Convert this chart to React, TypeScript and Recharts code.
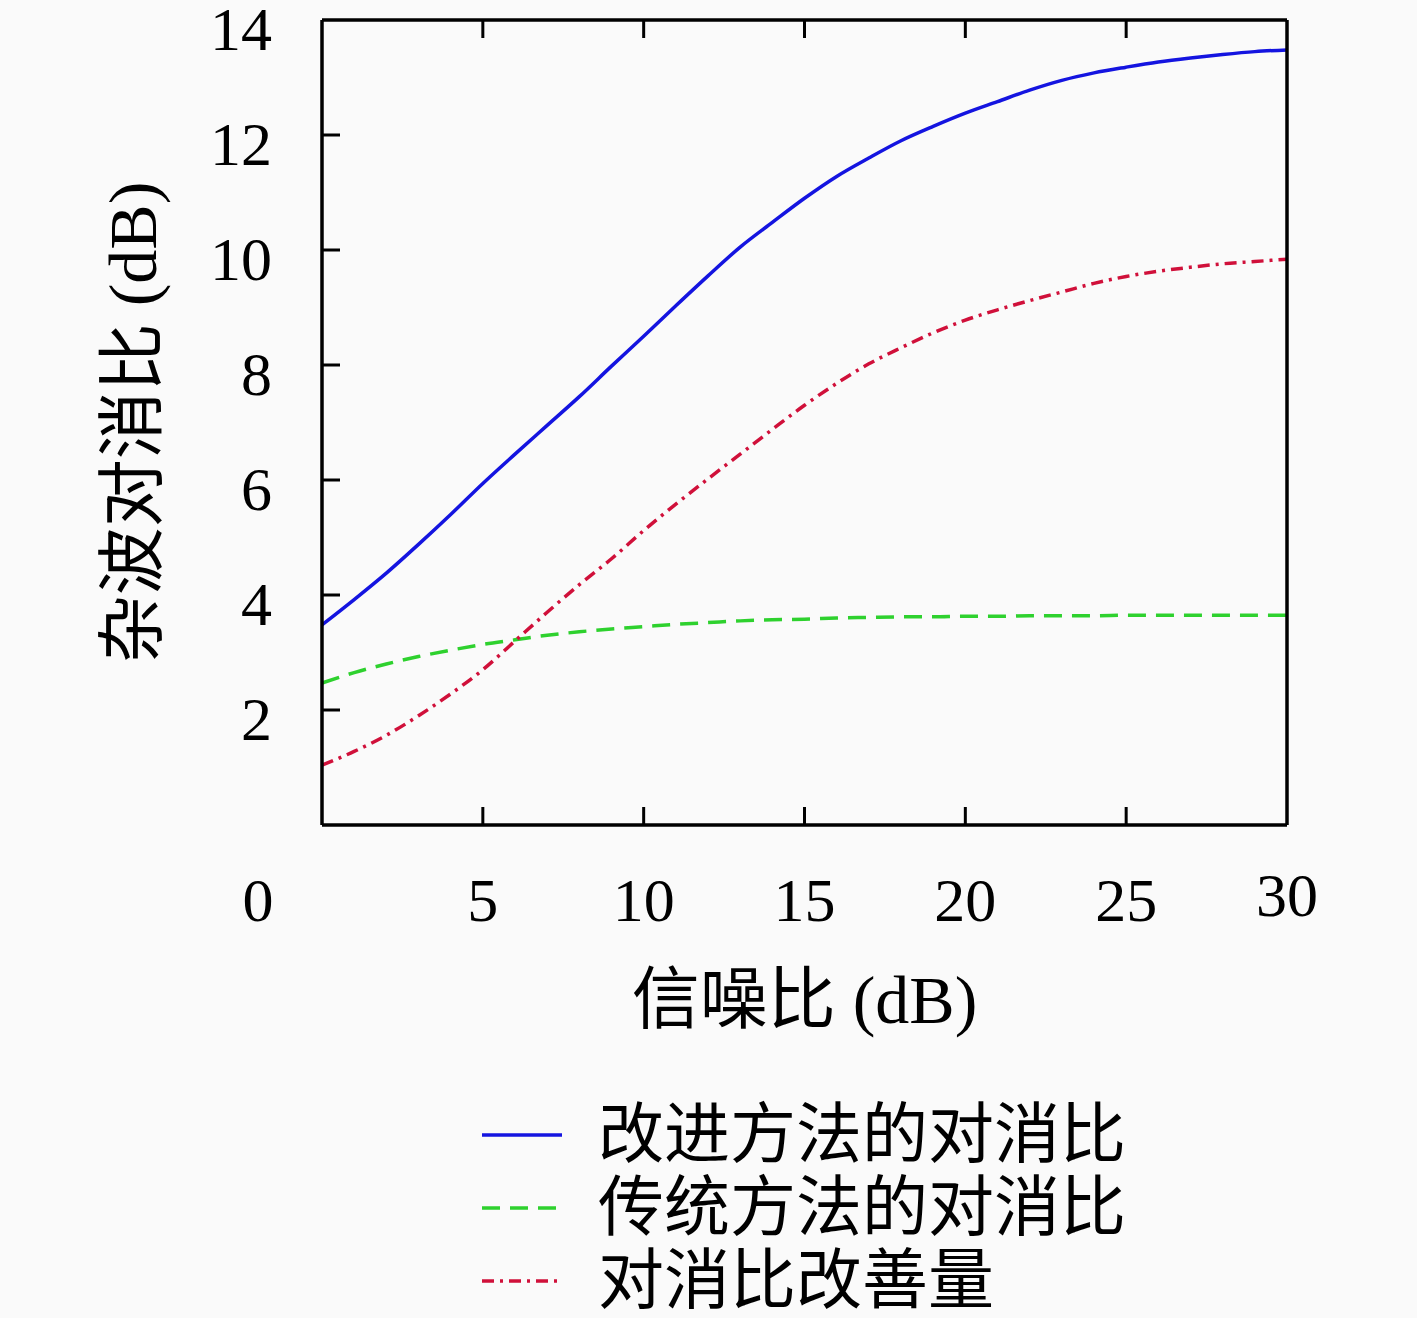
import React from 'react';
import { LineChart, Line, XAxis, YAxis } from 'recharts';

const snr = [0, 1, 2, 3, 4, 5, 6, 7, 8, 9, 10, 11, 12, 13, 14, 15, 16, 17, 18, 19, 20, 21, 22, 23, 24, 25, 26, 27, 28, 29, 30];
const improvedRatio = [
  3.48, 3.92, 4.38, 4.88, 5.4, 5.94, 6.45, 6.95, 7.45, 7.98, 8.5, 9.03, 9.55, 10.05, 10.48, 10.9,
  11.28, 11.6, 11.9, 12.15, 12.38, 12.58, 12.78, 12.95, 13.08, 13.18, 13.27, 13.34, 13.4, 13.45, 13.48,
];
const traditionalRatio = [
  2.47, 2.65, 2.8, 2.93, 3.04, 3.14, 3.22, 3.3, 3.36, 3.41, 3.45, 3.49, 3.52, 3.55, 3.57, 3.58,
  3.6, 3.61, 3.62, 3.62, 3.63, 3.63, 3.64, 3.64, 3.64, 3.65, 3.65, 3.65, 3.65, 3.65, 3.65,
];
const improvement = [
  1.04, 1.28, 1.56, 1.9, 2.28, 2.7, 3.2, 3.7, 4.18, 4.63, 5.12, 5.58, 6.02, 6.45, 6.88, 7.3,
  7.68, 8.02, 8.3, 8.56, 8.78, 8.96, 9.12, 9.27, 9.42, 9.54, 9.63, 9.7, 9.76, 9.8, 9.84,
];

const xTicks = [0, 5, 10, 15, 20, 25, 30];
const yTicks = [2, 4, 6, 8, 10, 12, 14];

const series = [
  { key: 'improved', name: '改进方法的对消比', color: '#1414e0', dash: undefined },
  { key: 'traditional', name: '传统方法的对消比', color: '#2ed12e', dash: '18 10' },
  { key: 'gain', name: '对消比改善量', color: '#d0103a', dash: '12 6 3 6' },
];

const data = snr.map((x, i) => ({
  snr: x,
  improved: improvedRatio[i],
  traditional: traditionalRatio[i],
  gain: improvement[i],
}));

const FONT = "'Liberation Serif', 'Noto Sans CJK SC', serif";
const TICK_LEN = 18;
const TICK_FONT = 62;
const LABEL_FONT = 68;

const BottomTick = (props: any) => {
  const { x, y, payload } = props;
  const v = payload.value;
  return (
    <g>
      {v !== 0 && v !== 30 && (
        <line x1={x} y1={y} x2={x} y2={y - TICK_LEN} stroke="#000" strokeWidth={3} />
      )}
      <text
        x={v === 0 ? x - 64 : x}
        y={v === 30 ? y + 91 : y + 96}
        textAnchor="middle"
        fontSize={TICK_FONT}
        fontFamily={FONT}
        fill="#000"
      >
        {v}
      </text>
    </g>
  );
};

const LeftTick = (props: any) => {
  const { x, y, payload } = props;
  const v = payload.value;
  return (
    <g>
      {v !== 14 && <line x1={x} y1={y} x2={x + TICK_LEN} y2={y} stroke="#000" strokeWidth={3} />}
      <text x={x - 50} y={y + 30} textAnchor="end" fontSize={TICK_FONT} fontFamily={FONT} fill="#000">
        {v}
      </text>
    </g>
  );
};

const TopTick = (props: any) => {
  const { x, y, payload } = props;
  const v = payload.value;
  if (v === 0 || v === 30) return <g />;
  return <line x1={x} y1={y} x2={x} y2={y + TICK_LEN} stroke="#000" strokeWidth={3} />;
};

const RightTick = (props: any) => {
  const { x, y, payload } = props;
  const v = payload.value;
  if (v === 14) return <g />;
  return <line x1={x} y1={y} x2={x - TICK_LEN} y2={y} stroke="#000" strokeWidth={3} />;
};

const YLabel = (props: any) => {
  const { viewBox } = props;
  const cx = viewBox.x + 133;
  const cy = viewBox.y + viewBox.height / 2;
  return (
    <text
      x={cx}
      y={cy}
      transform={`rotate(-90, ${cx}, ${cy})`}
      textAnchor="middle"
      dominantBaseline="central"
      fontSize={LABEL_FONT}
      fontFamily={FONT}
      fill="#000"
    >
      杂波对消比 (dB)
    </text>
  );
};

const XLabel = (props: any) => {
  const { viewBox } = props;
  return (
    <text
      x={viewBox.x + viewBox.width / 2}
      y={viewBox.y + 175}
      textAnchor="middle"
      dominantBaseline="central"
      fontSize={LABEL_FONT}
      fontFamily={FONT}
      fill="#000"
    >
      信噪比 (dB)
    </text>
  );
};

const axisLine = { stroke: '#000', strokeWidth: 3.5 };

export default function App() {
  return (
    <div style={{ position: 'absolute', left: 0, top: 0, width: 1417, height: 1318, background: '#fafafa' }}>
      <LineChart width={1417} height={1318} data={data} margin={{ top: 0, right: 0, bottom: 0, left: 0 }}>
        <XAxis
          dataKey="snr"
          type="number"
          domain={[0, 30]}
          ticks={xTicks}
          height={493}
          tickSize={0}
          tickMargin={0}
          tickLine={false}
          axisLine={axisLine}
          tick={<BottomTick />}
          interval={0}
          label={<XLabel />}
        />
        <XAxis
          xAxisId="top"
          orientation="top"
          dataKey="snr"
          type="number"
          domain={[0, 30]}
          ticks={xTicks}
          height={20}
          tickSize={0}
          tickMargin={0}
          tickLine={false}
          axisLine={axisLine}
          tick={<TopTick />}
          interval={0}
        />
        <YAxis
          type="number"
          domain={[0, 14]}
          ticks={yTicks}
          width={322}
          tickSize={0}
          tickMargin={0}
          tickLine={false}
          axisLine={axisLine}
          tick={<LeftTick />}
          interval={0}
          label={<YLabel />}
        />
        <YAxis
          yAxisId="right"
          orientation="right"
          type="number"
          domain={[0, 14]}
          ticks={yTicks}
          width={130}
          tickSize={0}
          tickMargin={0}
          tickLine={false}
          axisLine={axisLine}
          tick={<RightTick />}
          interval={0}
        />
        {series.map((s) => (
          <Line
            key={s.key}
            type="monotone"
            dataKey={s.key}
            stroke={s.color}
            strokeWidth={3.5}
            strokeDasharray={s.dash}
            dot={false}
            activeDot={false}
            isAnimationActive={false}
          />
        ))}
      </LineChart>
      <div style={{ position: 'absolute', left: 482, top: 1098, fontFamily: FONT, fontSize: 66 }}>
        {series.map((s) => (
          <div key={s.key} style={{ display: 'flex', alignItems: 'center', height: 73 }}>
            <svg width={80} height={10} style={{ marginRight: 36 }}>
              <line x1={0} y1={5} x2={80} y2={5} stroke={s.color} strokeWidth={3.5} strokeDasharray={s.dash} />
            </svg>
            <span style={{ lineHeight: '73px' }}>{s.name}</span>
          </div>
        ))}
      </div>
    </div>
  );
}
